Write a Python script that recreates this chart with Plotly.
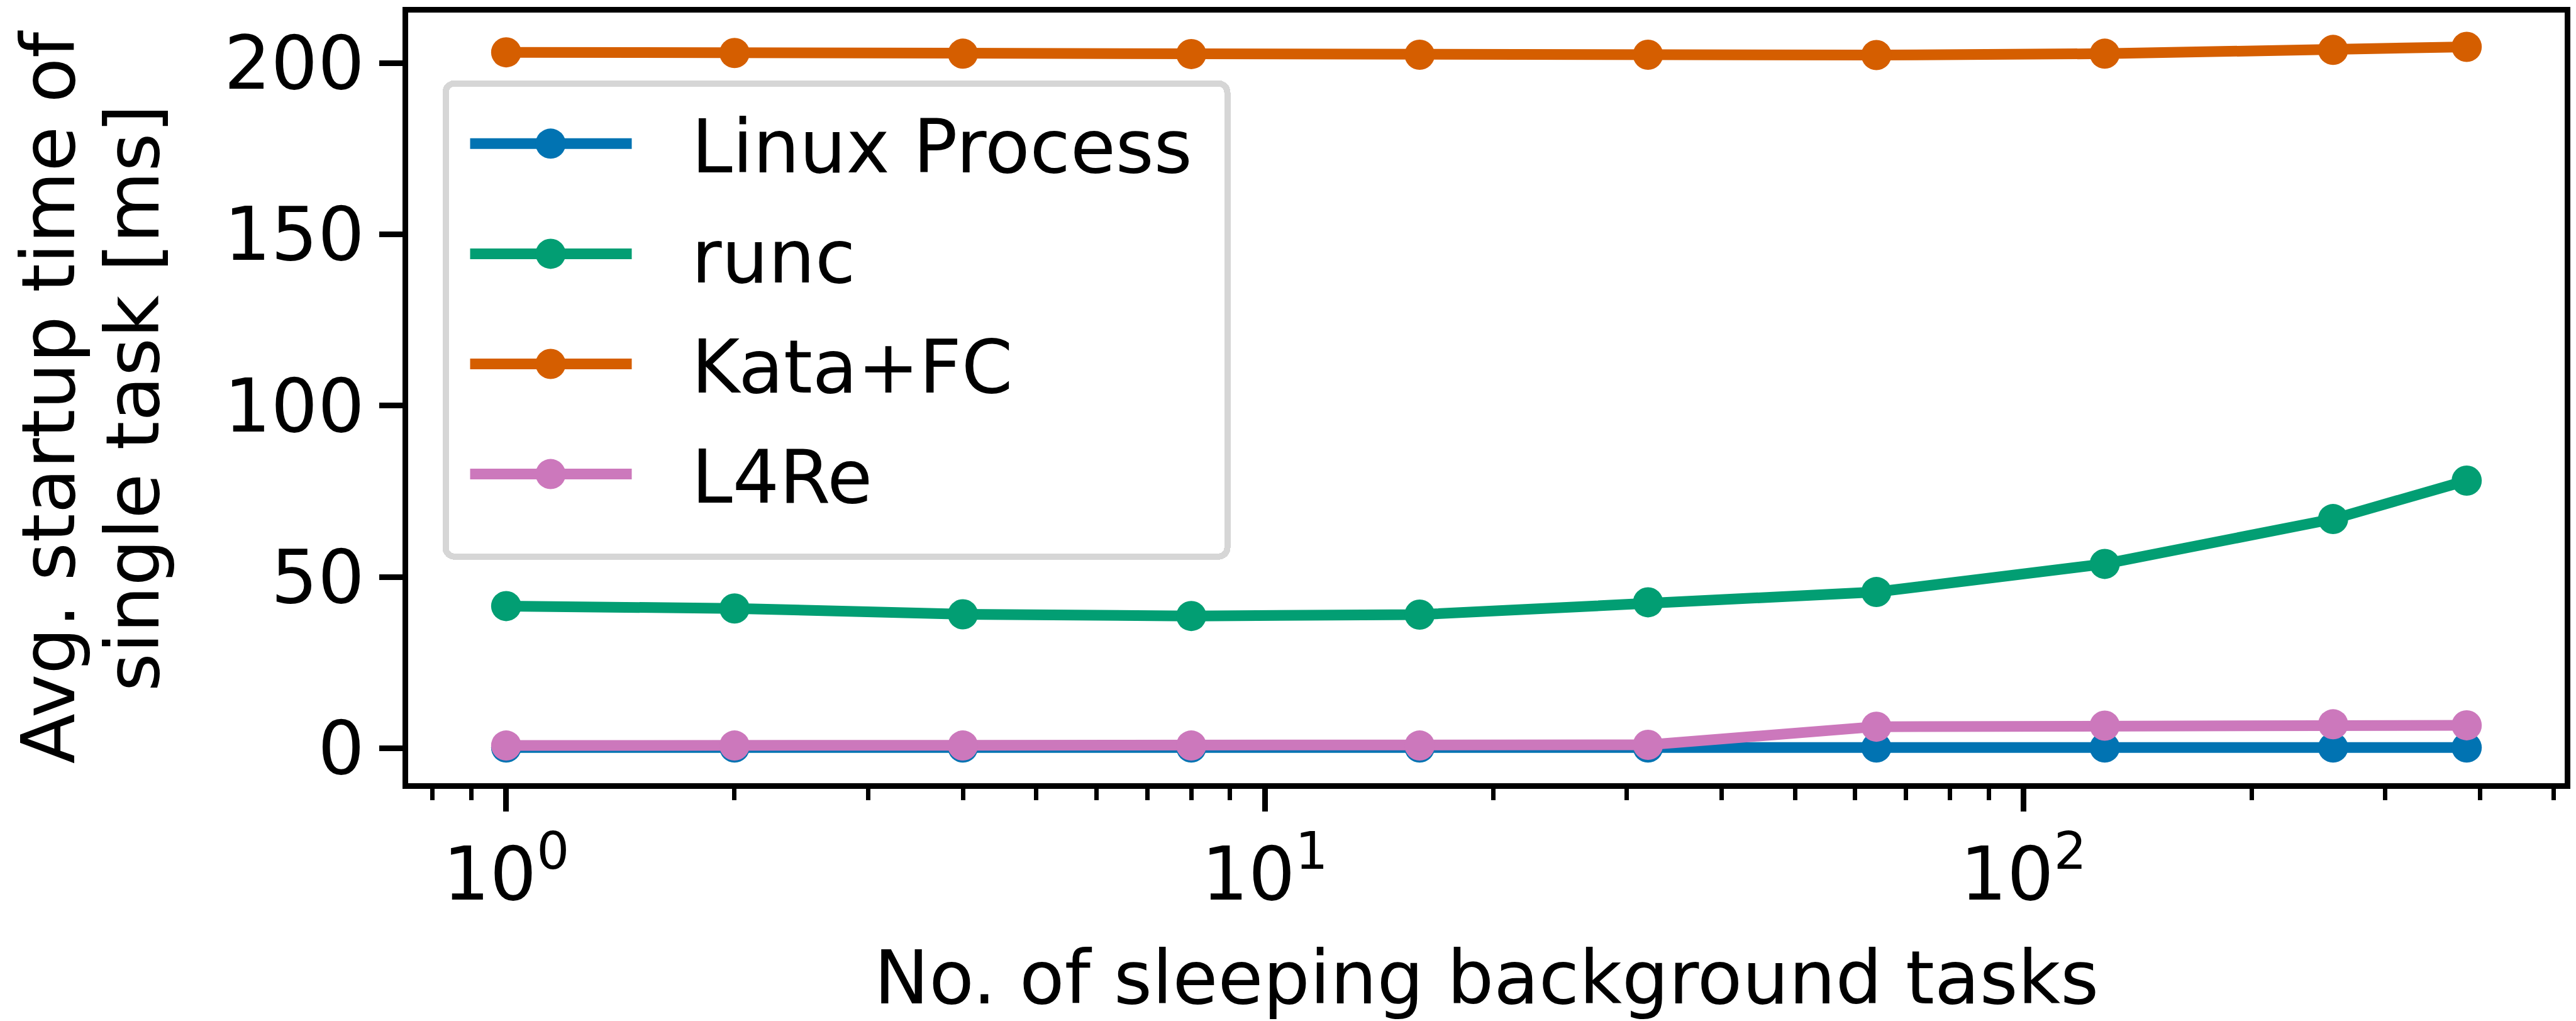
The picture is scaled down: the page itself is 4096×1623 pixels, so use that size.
import plotly.graph_objects as go

tasks = [1, 2, 4, 8, 16, 32, 64, 128, 256, 384]
linux_process = [0.2, 0.2, 0.2, 0.2, 0.2, 0.2, 0.2, 0.2, 0.2, 0.2]
runc = [41.5, 40.8, 39.1, 38.6, 39.0, 42.6, 45.6, 53.8, 66.9, 78.1]
kata_fc = [203.1, 202.9, 202.7, 202.6, 202.4, 202.4, 202.3, 202.7, 203.8, 204.7]
l4re = [0.8, 0.8, 0.8, 0.8, 0.8, 1.0, 6.3, 6.6, 7.0, 6.7]

series_names = ["Linux Process", "runc", "Kata+FC", "L4Re"]
series_values = [linux_process, runc, kata_fc, l4re]
colors = ["#0173b2", "#029e73", "#d55e00", "#cc78bc"]

x_tickvals = [1, 10, 100]
x_ticktext = ["10<sup>0</sup>", "10<sup>1</sup>", "10<sup>2</sup>"]
x_minor = [0.8, 0.9, 2, 3, 4, 5, 6, 7, 8, 9, 20, 30, 40, 50, 60, 70, 80, 90, 200, 300, 400, 500]
y_tickvals = [0, 50, 100, 150, 200]

FONT = "DejaVu Sans"
FS = 117

fig = go.Figure()
for i, (name, vals, col) in enumerate(zip(series_names, series_values, colors)):
    fig.add_trace(go.Scatter(
        x=tasks, y=vals, name=name, mode="lines+markers",
        line=dict(color=col, width=17),
        marker=dict(color=col, size=48),
        legendgroup="g%d" % i,
    ))

fig.update_layout(
    width=4096, height=1623,
    margin=dict(l=649, r=18, t=20, b=378, autoexpand=False),
    paper_bgcolor="white", plot_bgcolor="white",
    font=dict(family=FONT, size=FS, color="black"),
    showlegend=True,
    legend=dict(
        x=0.0159, y=0.9055, xanchor="left", yanchor="top",
        bgcolor="white", bordercolor="#d6d6d6", borderwidth=10,
        font=dict(family=FONT, size=FS, color="black"),
        itemwidth=376, tracegroupgap=20,
    ),
)

fig.update_xaxes(
    type="log", range=[-0.1292, 2.7135],
    tickmode="array", tickvals=x_tickvals, ticktext=x_ticktext,
    ticks="outside", ticklen=36, tickwidth=9, tickcolor="black",
    minor=dict(tickmode="array", tickvals=x_minor, ticks="outside", ticklen=18, tickwidth=7, tickcolor="black", showgrid=False),
    showline=True, linewidth=9, linecolor="black", mirror=True,
    showgrid=False, zeroline=False,
    tickfont=dict(family=FONT, size=FS, color="black"),
    title=dict(text="No. of sleeping background tasks", font=dict(family=FONT, size=FS, color="black"), standoff=68),
)
fig.update_yaxes(
    range=[-10.2, 214.7],
    tickmode="array", tickvals=y_tickvals,
    ticks="outside", ticklen=37, tickwidth=9, tickcolor="black",
    showline=True, linewidth=9, linecolor="black", mirror=True,
    showgrid=False, zeroline=False,
    tickfont=dict(family=FONT, size=FS, color="black"),
    title=dict(text="Avg. startup time of<br>single task [ms]", font=dict(family=FONT, size=FS, color="black"), standoff=50),
)

post_js = """
var gd = document.getElementById('{plot_id}');
var leg = gd.querySelector('.legend');
if (leg) {
  leg.querySelectorAll('.traces').forEach(function(t) {
    t.querySelectorAll('.legendlines path').forEach(function(ln) {
      ln.setAttribute('d', 'M34,0h257');
      ln.style.strokeWidth = '17px';
    });
    t.querySelectorAll('.legendpoints path').forEach(function(p) {
      p.setAttribute('d', 'M24,0A24,24 0 1,1 0,-24A24,24 0 0,1 24,0Z');
      p.setAttribute('transform', 'translate(162,0)');
    });
  });
  var bg = leg.querySelector('rect.bg');
  if (bg) {
    var y = parseFloat(bg.getAttribute('y')) || 0;
    var h = parseFloat(bg.getAttribute('height')) || 0;
    var w = parseFloat(bg.getAttribute('width')) || 0;
    bg.setAttribute('y', y - 8);
    bg.setAttribute('height', h + 8 + 43);
    bg.setAttribute('width', w + 45);
    bg.setAttribute('rx', 14);
    bg.setAttribute('ry', 14);
  }
}
var yt = gd.querySelector('.g-ytitle text');
if (yt) {
  var lines = yt.querySelectorAll('tspan.line');
  if (lines.length > 1) {
    lines[1].setAttribute('dy', '1.15em');
  }
}
"""

fig.write_html("out.html", post_script=post_js)
